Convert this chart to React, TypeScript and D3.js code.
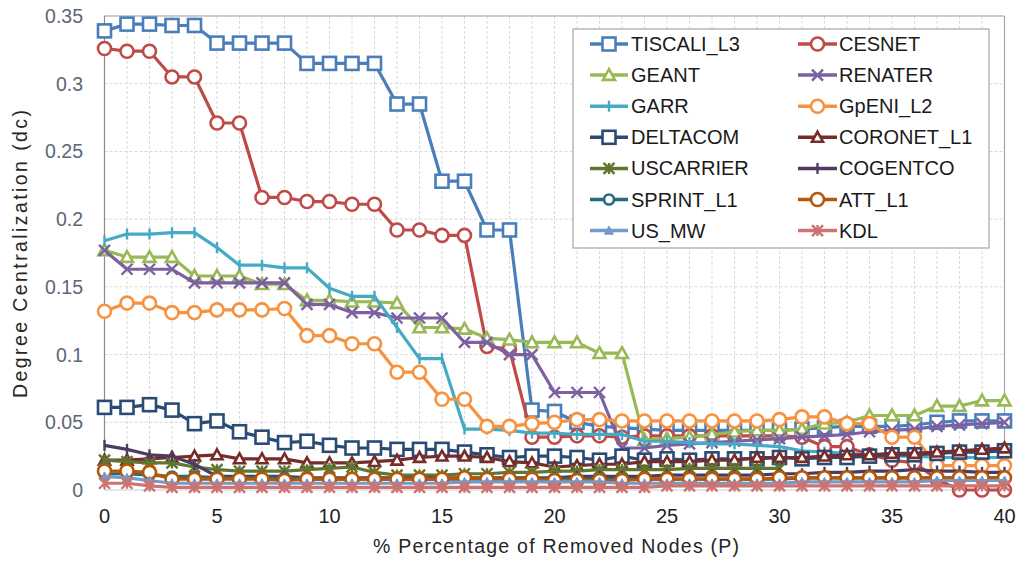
import React from "react";
import * as d3 from "d3";

// Percentage of removed nodes (x categories)
const removedPct = [
  0, 1, 2, 3, 4, 5, 6, 7, 8, 9, 10, 11, 12, 13, 14, 15, 16, 17, 18, 19, 20,
  21, 22, 23, 24, 25, 26, 27, 28, 29, 30, 31, 32, 33, 34, 35, 36, 37, 38, 39, 40,
];

const xTicks = [0, 5, 10, 15, 20, 25, 30, 35, 40];
const yTicks = [0, 0.05, 0.1, 0.15, 0.2, 0.25, 0.3, 0.35];
const yTickLabels = ["0", "0.05", "0.1", "0.15", "0.2", "0.25", "0.3", "0.35"];

// Degree centralization per network topology
const tiscaliL3 = [
  0.339, 0.344, 0.344, 0.343, 0.343, 0.33, 0.33, 0.33, 0.33, 0.315, 0.315,
  0.315, 0.315, 0.285, 0.285, 0.228, 0.228, 0.192, 0.192, 0.059, 0.058, 0.05,
  0.047, 0.046, 0.045, 0.044, 0.044, 0.044, 0.044, 0.044, 0.044, 0.045, 0.046,
  0.047, 0.047, 0.047, 0.048, 0.05, 0.051, 0.051, 0.051,
];
const cesnet = [
  0.326, 0.324, 0.324, 0.305, 0.305, 0.271, 0.271, 0.216, 0.216, 0.213, 0.213,
  0.211, 0.211, 0.192, 0.192, 0.188, 0.188, 0.106, 0.104, 0.039, 0.039, 0.04,
  0.04, 0.039, 0.04, 0.04, 0.04, 0.04, 0.04, 0.04, 0.04, 0.039, 0.032, 0.032,
  0.026, 0.022, 0.02, 0.008, 0.0, 0.0, 0.0,
];
const geant = [
  0.177, 0.172, 0.172, 0.172, 0.158, 0.158, 0.158, 0.152, 0.152, 0.14, 0.14,
  0.139, 0.139, 0.138, 0.12, 0.12, 0.119, 0.112, 0.111, 0.109, 0.109, 0.109,
  0.101, 0.101, 0.037, 0.038, 0.039, 0.041, 0.043, 0.044, 0.044, 0.045, 0.049,
  0.05, 0.055, 0.055, 0.055, 0.062, 0.062, 0.066, 0.066,
];
const renater = [
  0.177, 0.163, 0.163, 0.163, 0.153, 0.153, 0.153, 0.153, 0.153, 0.137, 0.137,
  0.131, 0.131, 0.127, 0.127, 0.127, 0.109, 0.109, 0.1, 0.1, 0.072, 0.072,
  0.072, 0.031, 0.031, 0.033, 0.034, 0.035, 0.036, 0.037, 0.038, 0.039, 0.04,
  0.041, 0.043, 0.044, 0.045, 0.047, 0.048, 0.049, 0.05,
];
const garr = [
  0.184, 0.189, 0.189, 0.19, 0.19, 0.179, 0.166, 0.166, 0.164, 0.164, 0.149,
  0.143, 0.143, 0.12, 0.097, 0.097, 0.045, 0.045, 0.044, 0.042, 0.042, 0.041,
  0.041, 0.041, 0.036, 0.036, 0.035, 0.034, 0.034, 0.033, 0.032, 0.029, 0.028,
  0.027, 0.026, 0.025, 0.025, 0.024, 0.024, 0.024, 0.024,
];
const gpeniL2 = [
  0.132, 0.138, 0.138, 0.131, 0.131, 0.133, 0.133, 0.133, 0.134, 0.114, 0.114,
  0.108, 0.108, 0.087, 0.087, 0.067, 0.067, 0.047, 0.047, 0.049, 0.05, 0.052,
  0.052, 0.051, 0.051, 0.051, 0.051, 0.051, 0.051, 0.051, 0.052, 0.054, 0.054,
  0.049, 0.049, 0.039, 0.039, 0.018, 0.018, 0.018, 0.018,
];
const deltacom = [
  0.061, 0.061, 0.063, 0.059, 0.049, 0.051, 0.043, 0.039, 0.035, 0.036, 0.033,
  0.031, 0.031, 0.03, 0.03, 0.03, 0.028, 0.026, 0.024, 0.025, 0.025, 0.024,
  0.022, 0.025, 0.022, 0.023, 0.022, 0.023, 0.023, 0.023, 0.024, 0.023, 0.024,
  0.024, 0.025, 0.026, 0.026, 0.027, 0.028, 0.028, 0.029,
];
const coronetL1 = [
  0.022, 0.022, 0.023, 0.024, 0.025, 0.026, 0.023, 0.023, 0.023, 0.02, 0.02,
  0.02, 0.021, 0.022, 0.024, 0.025, 0.025, 0.024, 0.021, 0.02, 0.017, 0.018,
  0.019, 0.019, 0.021, 0.021, 0.021, 0.022, 0.022, 0.024, 0.024, 0.024, 0.025,
  0.026, 0.026, 0.027, 0.027, 0.028, 0.029, 0.03, 0.031,
];
const uscarrier = [
  0.022, 0.021, 0.02, 0.02, 0.017, 0.015, 0.014, 0.014, 0.014, 0.015, 0.016,
  0.017, 0.013, 0.011, 0.011, 0.011, 0.012, 0.012, 0.013, 0.013, 0.014, 0.014,
  0.015, 0.015, 0.015, 0.015, 0.016, 0.016, 0.016, 0.016, 0.016, null, null,
  null, null, null, null, null, null, null, null,
];
const cogentco = [
  0.033, 0.03, 0.026, 0.025, 0.019, 0.01, 0.01, 0.01, 0.01, 0.009, 0.009,
  0.009, 0.009, 0.009, 0.009, 0.009, 0.009, 0.009, 0.009, 0.009, 0.009, 0.01,
  0.01, 0.01, 0.01, 0.011, 0.011, 0.011, 0.011, 0.011, 0.012, 0.012, 0.013,
  0.013, 0.014, 0.014, 0.015, 0.014, 0.014, 0.013, 0.013,
];
const sprintL1 = [
  0.012, 0.012, 0.011, 0.01, 0.01, 0.009, 0.009, 0.009, 0.009, 0.008, 0.008,
  0.008, 0.008, 0.008, 0.008, 0.008, 0.008, 0.008, 0.008, 0.008, 0.008, 0.008,
  0.008, 0.008, 0.008, 0.008, 0.008, 0.008, 0.008, 0.008, 0.008, 0.009, 0.009,
  0.009, 0.009, 0.009, 0.009, 0.009, 0.009, 0.009, 0.009,
];
const attL1 = [
  0.014, 0.014, 0.013, 0.008, 0.008, 0.008, 0.008, 0.008, 0.007, 0.008, 0.008,
  0.008, 0.008, 0.008, 0.008, 0.008, 0.009, 0.008, 0.008, 0.008, 0.007, 0.007,
  0.007, 0.007, 0.008, 0.008, 0.008, 0.008, 0.008, 0.008, 0.009, 0.009, 0.009,
  0.009, 0.009, 0.009, 0.009, 0.009, 0.009, 0.009, 0.009,
];
const usMw = [
  0.01, 0.009, 0.007, 0.005, 0.005, 0.005, 0.005, 0.005, 0.005, 0.005, 0.005,
  0.005, 0.005, 0.005, 0.005, 0.005, 0.006, 0.006, 0.006, 0.006, 0.006, 0.006,
  0.006, 0.005, 0.005, 0.005, 0.005, 0.005, 0.005, 0.005, 0.005, 0.006, 0.006,
  0.006, 0.006, 0.006, 0.006, 0.007, 0.007, 0.007, 0.007,
];
const kdl = [
  0.005, 0.005, 0.003, 0.002, 0.002, 0.002, 0.002, 0.002, 0.002, 0.002, 0.002,
  0.002, 0.002, 0.002, 0.002, 0.002, 0.002, 0.002, 0.002, 0.002, 0.002, 0.002,
  0.002, 0.002, 0.002, 0.003, 0.003, 0.003, 0.003, 0.003, 0.003, 0.003, 0.003,
  0.003, 0.003, 0.003, 0.003, 0.003, 0.003, 0.003, 0.003,
];

const seriesNames = [
  "TISCALI_L3", "CESNET", "GEANT", "RENATER", "GARR", "GpENI_L2", "DELTACOM",
  "CORONET_L1", "USCARRIER", "COGENTCO", "SPRINT_L1", "ATT_L1", "US_MW", "KDL",
];
const seriesValues = [
  tiscaliL3, cesnet, geant, renater, garr, gpeniL2, deltacom, coronetL1,
  uscarrier, cogentco, sprintL1, attL1, usMw, kdl,
];

type MarkerKind = "square" | "circle" | "triangle" | "x" | "star" | "plus" | "solidTriangle";

interface SeriesStyle {
  color: string;
  marker: MarkerKind;
  size: number;
}

const seriesStyles: SeriesStyle[] = [
  { color: "#4A7EBB", marker: "square", size: 13 },
  { color: "#BE4B48", marker: "circle", size: 13 },
  { color: "#98B954", marker: "triangle", size: 12 },
  { color: "#7D60A0", marker: "x", size: 11 },
  { color: "#46AAC5", marker: "plus", size: 11 },
  { color: "#F69240", marker: "circle", size: 13 },
  { color: "#294B75", marker: "square", size: 13 },
  { color: "#772C2A", marker: "triangle", size: 11 },
  { color: "#5F7530", marker: "star", size: 11 },
  { color: "#4D3B62", marker: "plus", size: 11 },
  { color: "#276A7C", marker: "circle", size: 10 },
  { color: "#B65708", marker: "circle", size: 13 },
  { color: "#729ACA", marker: "solidTriangle", size: 9 },
  { color: "#CD7371", marker: "star", size: 11 },
];

const FONT = "'Liberation Sans', Arial, sans-serif";

function Marker({ cx, cy, style }: { cx: number; cy: number; style: SeriesStyle }) {
  const s = style.size;
  const h = s / 2;
  const sw = 2.6;
  switch (style.marker) {
    case "square":
      return (
        <rect x={cx - h} y={cy - h} width={s} height={s} fill="#fff" stroke={style.color} strokeWidth={sw} />
      );
    case "circle":
      return <circle cx={cx} cy={cy} r={h} fill="#fff" stroke={style.color} strokeWidth={sw} />;
    case "triangle": {
      const p = d3.path();
      p.moveTo(cx, cy - h);
      p.lineTo(cx + h, cy + h * 0.8);
      p.lineTo(cx - h, cy + h * 0.8);
      p.closePath();
      return <path d={p.toString()} fill="#fff" stroke={style.color} strokeWidth={sw} />;
    }
    case "solidTriangle": {
      const p = d3.path();
      p.moveTo(cx, cy - h);
      p.lineTo(cx + h, cy + h * 0.8);
      p.lineTo(cx - h, cy + h * 0.8);
      p.closePath();
      return <path d={p.toString()} fill={style.color} stroke={style.color} strokeWidth={1} />;
    }
    case "x": {
      const p = d3.path();
      p.moveTo(cx - h, cy - h);
      p.lineTo(cx + h, cy + h);
      p.moveTo(cx + h, cy - h);
      p.lineTo(cx - h, cy + h);
      return <path d={p.toString()} fill="none" stroke={style.color} strokeWidth={2.4} />;
    }
    case "star": {
      const p = d3.path();
      p.moveTo(cx - h, cy - h);
      p.lineTo(cx + h, cy + h);
      p.moveTo(cx + h, cy - h);
      p.lineTo(cx - h, cy + h);
      p.moveTo(cx, cy - h);
      p.lineTo(cx, cy + h);
      return <path d={p.toString()} fill="none" stroke={style.color} strokeWidth={2.4} />;
    }
    case "plus": {
      const p = d3.path();
      p.moveTo(cx, cy - h);
      p.lineTo(cx, cy + h);
      return <path d={p.toString()} fill="none" stroke={style.color} strokeWidth={2.4} />;
    }
  }
  return null;
}

export default function App() {
  const width = 1019;
  const height = 563;
  const plot = { left: 104.5, right: 1004.5, top: 16, bottom: 490 };

  const x = d3.scaleLinear().domain([0, 40]).range([plot.left, plot.right]);
  const y = d3.scaleLinear().domain([0, 0.35]).range([plot.bottom, plot.top]);

  const line = d3
    .line<number | null>()
    .defined((v) => v !== null)
    .x((_, i) => x(removedPct[i]))
    .y((v) => y(v as number));

  const legendRowY = (r: number) => 44 + r * 31.1;
  const legendCols = [
    { lineX0: 590, lineX1: 628, textX: 631 },
    { lineX0: 798, lineX1: 837, textX: 839 },
  ];

  return (
    <svg
      width={width}
      height={height}
      style={{ position: "absolute", left: 0, top: 0, background: "#fff" }}
      fontFamily={FONT}
    >
      {/* gridlines */}
      {removedPct.map((v) => (
        <line
          key={`gx${v}`}
          x1={x(v)}
          x2={x(v)}
          y1={plot.top}
          y2={plot.bottom}
          stroke="#d9d9d9"
          strokeWidth={1}
          strokeDasharray="3 2"
        />
      ))}
      {yTicks.map((v) => (
        <line
          key={`gy${v}`}
          x1={plot.left}
          x2={plot.right}
          y1={y(v)}
          y2={y(v)}
          stroke="#d9d9d9"
          strokeWidth={1}
          strokeDasharray="3 2"
        />
      ))}

      {/* plot border */}
      <line x1={plot.left} x2={plot.right} y1={plot.top} y2={plot.top} stroke="#a6a6a6" strokeWidth={1.2} />
      <line x1={plot.right} x2={plot.right} y1={plot.top} y2={plot.bottom} stroke="#a6a6a6" strokeWidth={1.2} />
      <line x1={plot.left} x2={plot.left} y1={plot.top} y2={plot.bottom} stroke="#8c8c8c" strokeWidth={1.2} />
      <line x1={plot.left} x2={plot.right} y1={plot.bottom} y2={plot.bottom} stroke="#d9d9d9" strokeWidth={1} />

      {/* y tick labels */}
      {yTicks.map((v, i) => (
        <text
          key={`yl${v}`}
          x={83}
          y={y(v)}
          textAnchor="end"
          dominantBaseline="central"
          fontSize={19.5}
          fill="#5b6678"
        >
          {yTickLabels[i]}
        </text>
      ))}

      {/* x tick labels */}
      {xTicks.map((v) => (
        <text key={`xl${v}`} x={x(v)} y={523} textAnchor="middle" fontSize={20} fill="#1f1f1f">
          {v}
        </text>
      ))}

      {/* axis titles */}
      <text x={556} y={553} textAnchor="middle" fontSize={19.5} fill="#262626" textLength={366} lengthAdjust="spacing">
        % Percentage of Removed Nodes (P)
      </text>
      <text
        transform={`translate(27,254) rotate(-90)`}
        textAnchor="middle"
        fontSize={19.5}
        fill="#262626"
        textLength={288}
        lengthAdjust="spacing"
      >
        Degree  Centralization  (dc)
      </text>

      {/* series */}
      {seriesValues.map((vals, si) => {
        const st = seriesStyles[si];
        return (
          <g key={seriesNames[si]}>
            <path d={line(vals) ?? ""} fill="none" stroke={st.color} strokeWidth={3.2} strokeLinejoin="round" />
            {vals.map((v, i) =>
              v === null ? null : <Marker key={i} cx={x(removedPct[i])} cy={y(v)} style={st} />
            )}
          </g>
        );
      })}

      {/* legend */}
      <rect x={573} y={29} width={416} height={219} fill="#fff" stroke="#a6a6a6" strokeWidth={1.2} />
      {seriesNames.map((name, si) => {
        const col = legendCols[si % 2];
        const cy = legendRowY(Math.floor(si / 2));
        const st = seriesStyles[si];
        return (
          <g key={`lg${name}`}>
            <line x1={col.lineX0} x2={col.lineX1} y1={cy} y2={cy} stroke={st.color} strokeWidth={3.5} />
            <Marker cx={(col.lineX0 + col.lineX1) / 2} cy={cy} style={st} />
            <text x={col.textX} y={cy} dominantBaseline="central" fontSize={20} fill="#1a1a1a">
              {name}
            </text>
          </g>
        );
      })}
    </svg>
  );
}
